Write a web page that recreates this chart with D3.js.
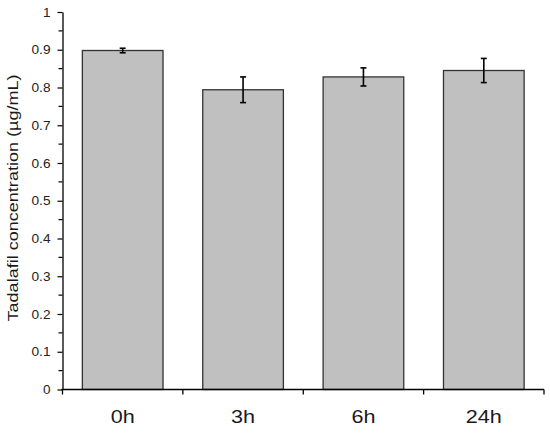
<!DOCTYPE html>
<html><head><meta charset="utf-8">
<script src="https://cdn.jsdelivr.net/npm/d3@7/dist/d3.min.js"></script>
<style>body{margin:0;background:#fff}svg{display:block}</style>
</head><body>
<svg id="chart" width="550" height="433"></svg>
<script>
const categories = ["0h", "3h", "6h", "24h"];
const means = [0.898, 0.794, 0.828, 0.845];
const errors = [0.006, 0.034, 0.024, 0.032];
const yTicks = [0, 0.1, 0.2, 0.3, 0.4, 0.5, 0.6, 0.7, 0.8, 0.9, 1];
const yTickLabels = ["0", "0.1", "0.2", "0.3", "0.4", "0.5", "0.6", "0.7", "0.8", "0.9", "1"];
const yMinorTicks = [0.05, 0.15, 0.25, 0.35, 0.45, 0.55, 0.65, 0.75, 0.85, 0.95];
const yTitle = "Tadalafil  concentration  (µg/mL)";

const svg = d3.select("#chart");
const font = "Arial, 'Liberation Sans', sans-serif";
const mLeft = 62.5, mRight = 544, mTop = 12, mBottom = 389.5;

const x = d3.scaleBand().domain(categories).range([mLeft, mRight]).paddingInner(0.33).paddingOuter(0.165);
const y = d3.scaleLinear().domain([0, 1]).range([mBottom, mTop]);

// bars
svg.append("g").selectAll("rect").data(categories).join("rect")
  .attr("x", d => x(d)).attr("width", x.bandwidth())
  .attr("y", (d, i) => y(means[i])).attr("height", (d, i) => y(0) - y(means[i]))
  .attr("fill", "#c0c0c0").attr("stroke", "#333").attr("stroke-width", 1.3);

// error bars
const eg = svg.append("g").attr("stroke", "#000").attr("stroke-width", 1.6);
categories.forEach((c, i) => {
  const cx = x(c) + x.bandwidth() / 2;
  const y1 = y(means[i] + errors[i]), y2 = y(means[i] - errors[i]);
  eg.append("line").attr("x1", cx).attr("x2", cx).attr("y1", y1).attr("y2", y2);
  eg.append("line").attr("x1", cx - 3).attr("x2", cx + 3).attr("y1", y1).attr("y2", y1);
  eg.append("line").attr("x1", cx - 3).attr("x2", cx + 3).attr("y1", y2).attr("y2", y2);
});

// y axis
const yAxis = d3.axisLeft(y).tickValues(yTicks).tickSize(5).tickSizeOuter(0)
  .tickFormat((d, i) => yTickLabels[i]).tickPadding(7);
const ya = svg.append("g").attr("transform", `translate(${mLeft},0)`).call(yAxis);
ya.select(".domain").attr("stroke", "#000").attr("stroke-width", 1.3);
ya.selectAll(".tick line").attr("stroke", "#000").attr("stroke-width", 1.2);
ya.selectAll(".tick text").attr("font-family", font).attr("font-size", 13).attr("fill", "#222")
  .each(function () { const t = this.textContent; this.setAttribute("textLength", t.length === 1 ? 7.5 : 19); this.setAttribute("lengthAdjust", "spacingAndGlyphs"); });
svg.append("g").selectAll("line").data(yMinorTicks).join("line")
  .attr("x1", mLeft - 4).attr("x2", mLeft).attr("y1", d => y(d)).attr("y2", d => y(d))
  .attr("stroke", "#000").attr("stroke-width", 1.2);

// x axis
svg.append("line").attr("x1", mLeft - 1).attr("x2", mRight).attr("y1", mBottom).attr("y2", mBottom)
  .attr("stroke", "#000").attr("stroke-width", 1.4);
const edges = [mLeft].concat(categories.map(c => x(c) + x.bandwidth() + (x.step() - x.bandwidth()) / 2));
svg.append("g").selectAll("line").data(edges).join("line")
  .attr("x1", d => d).attr("x2", d => d).attr("y1", mBottom).attr("y2", mBottom + 5)
  .attr("stroke", "#000").attr("stroke-width", 1.3);
svg.append("g").selectAll("text").data(categories).join("text")
  .attr("x", d => x(d) + x.bandwidth() / 2).attr("y", 423)
  .attr("text-anchor", "middle").attr("font-family", font).attr("font-size", 18).attr("fill", "#1a1a1a")
  .attr("textLength", d => d.length * 12).attr("lengthAdjust", "spacingAndGlyphs")
  .text(d => d);

// y title
svg.append("text").attr("transform", "translate(18,198) rotate(-90)")
  .attr("text-anchor", "middle").attr("font-family", font).attr("font-size", 15.5).attr("fill", "#1a1a1a")
  .attr("textLength", 247).attr("lengthAdjust", "spacingAndGlyphs")
  .text(yTitle);
</script>
</body></html>
